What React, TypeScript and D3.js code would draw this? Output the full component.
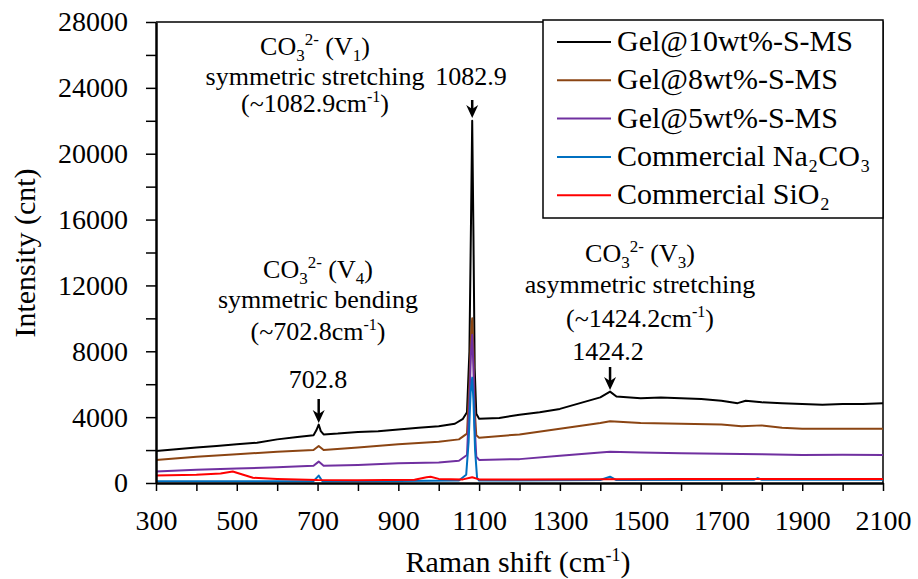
import React, { useEffect, useRef } from 'react';
import * as d3 from 'd3';

// Raman spectra, [shift cm-1, intensity cnt]
const gel10 = [
  [300, 1950], [350, 2050], [400, 2150], [450, 2250], [500, 2350], [550, 2450], [600, 2650],
  [650, 2800], [690, 2900], [697, 3200], [702.8, 3550], [708, 3150], [715, 2950], [750, 3000],
  [800, 3100], [850, 3150], [900, 3250], [950, 3350], [1000, 3450], [1040, 3600], [1060, 3900],
  [1070, 4300], [1076, 8000], [1080, 16000], [1082.9, 22000], [1086, 15000], [1089, 7000],
  [1093, 4200], [1100, 3900], [1150, 3950], [1200, 4150], [1250, 4300], [1300, 4500],
  [1350, 4850], [1400, 5200], [1424.2, 5550], [1440, 5250], [1500, 5150], [1550, 5200],
  [1600, 5150], [1650, 5100], [1700, 5000], [1740, 4850], [1760, 5000], [1800, 4900],
  [1850, 4850], [1900, 4800], [1950, 4750], [2000, 4800], [2050, 4800], [2100, 4850],
];
const gel8 = [
  [300, 1400], [400, 1600], [500, 1750], [600, 1900], [690, 2000], [702.8, 2250], [715, 2000],
  [800, 2150], [900, 2350], [1000, 2500], [1050, 2650], [1070, 3000], [1076, 6000], [1080, 9000],
  [1082.9, 10000], [1086, 8000], [1089, 4500], [1093, 2900], [1100, 2750], [1200, 2950],
  [1300, 3300], [1400, 3650], [1424.2, 3750], [1500, 3650], [1600, 3600], [1700, 3550],
  [1750, 3450], [1800, 3500], [1850, 3350], [1900, 3300], [2000, 3300], [2100, 3300],
];
const gel5 = [
  [300, 700], [400, 800], [500, 880], [600, 960], [690, 1050], [702.8, 1300], [715, 1050],
  [800, 1100], [900, 1200], [1000, 1250], [1050, 1350], [1070, 1700], [1076, 5000], [1080, 8000],
  [1082.9, 9000], [1086, 7000], [1089, 3500], [1093, 1600], [1100, 1400], [1200, 1450],
  [1300, 1650], [1400, 1850], [1424.2, 1900], [1500, 1850], [1600, 1800], [1700, 1780],
  [1800, 1750], [1900, 1700], [2000, 1720], [2100, 1700],
];
const na2co3 = [
  [300, 100], [500, 100], [690, 110], [702.8, 450], [712, 110], [900, 120], [1050, 150],
  [1068, 500], [1074, 2500], [1079, 5500], [1082.9, 6400], [1086, 5000], [1090, 2000],
  [1095, 300], [1100, 150], [1400, 180], [1424.2, 380], [1440, 180], [1780, 200], [1790, 300],
  [1800, 200], [2100, 200],
];
const sio2 = [
  [300, 450], [400, 500], [460, 580], [490, 700], [510, 550], [540, 320], [600, 250],
  [700, 180], [800, 170], [940, 200], [970, 350], [980, 380], [1000, 250], [1060, 220],
  [1082.9, 350], [1100, 220], [1200, 220], [1400, 230], [1600, 250], [1800, 250], [2100, 250],
];

const seriesNames = ['Gel@10wt%-S-MS', 'Gel@8wt%-S-MS', 'Gel@5wt%-S-MS', 'Commercial Na\u2082CO\u2083', 'Commercial SiO\u2082'];
const seriesColors = ['#000000', '#8B4513', '#7030A0', '#0070C0', '#FF0000'];
const xTicks = [300, 500, 700, 900, 1100, 1300, 1500, 1700, 1900, 2100];
const yTicks = [0, 4000, 8000, 12000, 16000, 20000, 24000, 28000];

const FONT = 'Liberation Serif, Times New Roman, DejaVu Serif, serif';
const ANN = 26;

const App: React.FC = () => {
  const ref = useRef<SVGSVGElement>(null);

  useEffect(() => {
    const svg = d3.select(ref.current);
    svg.selectAll('*').remove();

    const left = 156, right = 883, top = 22, bottom = 483;
    const x = d3.scaleLinear().domain([300, 2100]).range([left, right]);
    const y = d3.scaleLinear().domain([0, 28000]).range([bottom, top]);

    const g = svg.append('g');

    // frame (top and right)
    g.append('path')
      .attr('d', `M${left},${top}H${right}V${bottom}`)
      .attr('fill', 'none').attr('stroke', '#000').attr('stroke-width', 1.5);

    // data lines
    const line = d3.line<number[]>().x((d) => x(d[0])).y((d) => y(d[1]));
    [gel10, gel8, gel5, na2co3, sio2].forEach((s, i) => {
      g.append('path')
        .datum(s)
        .attr('d', line)
        .attr('fill', 'none')
        .attr('stroke', seriesColors[i])
        .attr('stroke-width', 2)
        .attr('stroke-linejoin', 'round');
    });

    // minor ticks
    const xMinor = g.append('g').attr('transform', `translate(0,${bottom})`)
      .call(d3.axisBottom(x).tickValues(d3.range(400, 2100, 200)).tickSize(8).tickFormat(() => ''));
    const yMinor = g.append('g').attr('transform', `translate(${left},0)`)
      .call(d3.axisLeft(y).tickValues(d3.range(2000, 28000, 4000)).tickSize(10).tickFormat(() => ''));
    [xMinor, yMinor].forEach((a) => {
      a.select('.domain').remove();
      a.selectAll('line').attr('stroke-width', 1.5);
    });

    // major axes
    const xAxis = g.append('g').attr('transform', `translate(0,${bottom})`)
      .call(d3.axisBottom(x).tickValues(xTicks).tickSize(8).tickSizeOuter(0).tickFormat(d3.format('d')));
    const yAxis = g.append('g').attr('transform', `translate(${left},0)`)
      .call(d3.axisLeft(y).tickValues(yTicks).tickSize(10).tickSizeOuter(0).tickPadding(18).tickFormat(d3.format('d')));
    [xAxis, yAxis].forEach((a) => {
      a.attr('font-family', FONT).attr('font-size', 28);
      a.select('.domain').attr('stroke-width', 2.5);
      a.selectAll('line').attr('stroke-width', 1.5);
      a.selectAll('text').attr('fill', '#000');
    });
    xAxis.selectAll('text').attr('y', 47).attr('dy', 0);

    // axis titles
    g.append('text')
      .attr('transform', `translate(35,253) rotate(-90)`)
      .attr('text-anchor', 'middle').attr('font-size', 30)
      .text('Intensity (cnt)');

    const xt = g.append('text').attr('x', 518).attr('y', 572).attr('text-anchor', 'middle').attr('font-size', 30);
    xt.append('tspan').text('Raman shift (cm');
    xt.append('tspan').attr('dy', -11).attr('font-size', 18).text('-1');
    xt.append('tspan').attr('dy', 11).text(')');

    // annotations
    const label = (cx: number, cy: number, n: string) => {
      const t = g.append('text').attr('x', cx).attr('y', cy).attr('text-anchor', 'middle').attr('font-size', ANN);
      t.append('tspan').text('CO');
      t.append('tspan').attr('dy', 6).attr('font-size', 17).text('3');
      t.append('tspan').attr('dy', -16).attr('font-size', 17).text('2-');
      t.append('tspan').attr('dy', 10).text(' (V');
      t.append('tspan').attr('dy', 6).attr('font-size', 17).text(n);
      t.append('tspan').attr('dy', -6).text(')');
    };
    const plain = (cx: number, cy: number, s: string) =>
      g.append('text').attr('x', cx).attr('y', cy).attr('text-anchor', 'middle').attr('font-size', ANN).text(s);
    const wave = (cx: number, cy: number, v: string) => {
      const t = g.append('text').attr('x', cx).attr('y', cy).attr('text-anchor', 'middle').attr('font-size', ANN);
      t.append('tspan').text(`(~${v}cm`);
      t.append('tspan').attr('dy', -10).attr('font-size', 16).text('-1');
      t.append('tspan').attr('dy', 10).text(')');
    };
    const arrow = (px: number, y0: number, y1: number) => {
      g.append('line').attr('x1', px).attr('x2', px).attr('y1', y0).attr('y2', y1 - 6)
        .attr('stroke', '#000').attr('stroke-width', 2.5);
      g.append('path').attr('d', `M${px - 6},${y1 - 13}L${px},${y1}L${px + 6},${y1 - 13}L${px},${y1 - 9}Z`).attr('fill', '#000');
    };

    label(315, 55, '1');
    plain(315, 85, 'symmetric stretching');
    wave(315, 112, '1082.9');
    plain(471, 85, '1082.9');
    arrow(x(1082.9), 100, 118);

    label(318, 278, '4');
    plain(318, 308, 'symmetric bending');
    wave(318, 340, '702.8');
    plain(318, 388, '702.8');
    arrow(x(702.8), 399, 423);

    label(640, 262, '3');
    plain(640, 293, 'asymmetric stretching');
    wave(640, 327, '1424.2');
    plain(608, 360, '1424.2');
    arrow(x(1424.2), 367, 390);

    // legend
    const lg = g.append('g');
    lg.append('rect').attr('x', 543).attr('y', 20).attr('width', 340).attr('height', 198)
      .attr('fill', '#fff').attr('stroke', '#000').attr('stroke-width', 1.5);
    seriesNames.forEach((name, i) => {
      const cy = 42 + i * 38.3;
      lg.append('line').attr('x1', 557).attr('x2', 611).attr('y1', cy).attr('y2', cy)
        .attr('stroke', seriesColors[i]).attr('stroke-width', 2);
      lg.append('text').attr('x', 617).attr('y', cy + 9).attr('font-size', 30).text(name);
    });

    svg.selectAll('text').attr('font-family', FONT);
  }, []);

  return (
    <svg ref={ref} width={918} height={579} style={{ position: 'absolute', left: 0, top: 0, background: '#fff' }} />
  );
};

export default App;
